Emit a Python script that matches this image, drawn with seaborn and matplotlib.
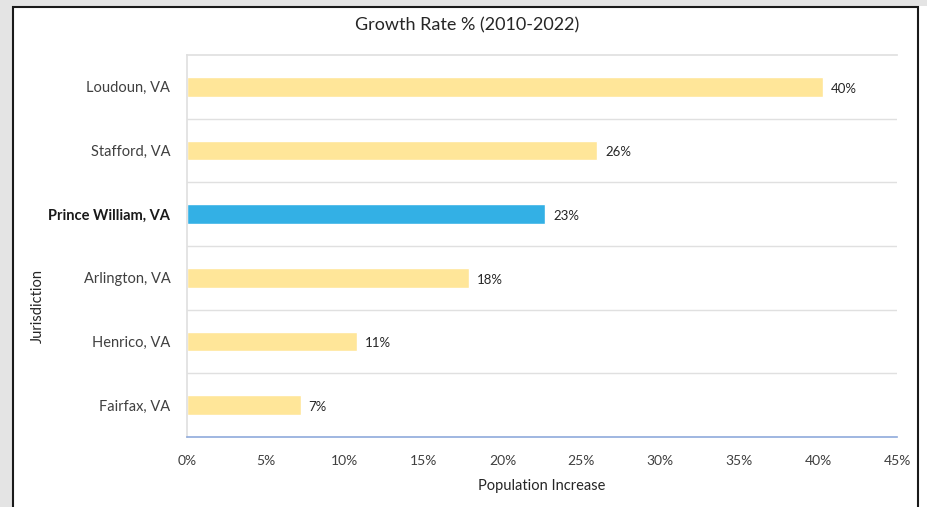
import matplotlib
matplotlib.use("Agg")
import matplotlib.pyplot as plt
import matplotlib.patches as patches
import seaborn as sns
import pandas as pd

jurisdictions = ['Loudoun, VA', 'Stafford, VA', 'Prince William, VA',
                 'Arlington, VA', 'Henrico, VA', 'Fairfax, VA']
growth = [40.3, 26.0, 22.7, 17.9, 10.8, 7.2]
labels = ['40%', '26%', '23%', '18%', '11%', '7%']
highlight = 'Prince William, VA'

df = pd.DataFrame({'Jurisdiction': jurisdictions, 'Growth': growth})
df['Group'] = ['hi' if j == highlight else 'other' for j in df['Jurisdiction']]

sns.set_theme(style="white")
plt.rcParams['font.family'] = ['Lato', 'DejaVu Sans']

fig = plt.figure(figsize=(9.28, 5.07), dpi=100)
fig.patch.set_facecolor('white')

# grey frame outside the chart + black border
fig.patches.append(patches.Rectangle((0, 1 - 6 / 507), 1, 6 / 507, transform=fig.transFigure,
                                     facecolor='#e4e4e4', edgecolor='none', zorder=0))
fig.patches.append(patches.Rectangle((0, 0), 12 / 928, 1, transform=fig.transFigure,
                                     facecolor='#e4e4e4', edgecolor='none', zorder=0))
fig.patches.append(patches.Rectangle((13 / 928, -0.05), (918 - 13) / 928, 1.05 - 7 / 507,
                                     transform=fig.transFigure, facecolor='none',
                                     edgecolor='#1a1a1a', linewidth=1.5, zorder=1))

ax = fig.add_axes([187 / 928, 1 - 437 / 507, (897 - 187) / 928, (437 - 55) / 507])
sns.barplot(data=df, y='Jurisdiction', x='Growth', hue='Group',
            palette={'hi': '#33b0e5', 'other': '#ffe699'}, orient='h',
            width=0.31, dodge=False, legend=False, saturation=1, ax=ax)

for i, (v, lab) in enumerate(zip(growth, labels)):
    ax.text(v + 0.5, i + 0.03, lab, va='center', ha='left', fontsize=9.5, color='#262626')

ax.set_xlim(0, 45)
ax.set_ylim(5.5, -0.5)
ax.set_xticks(range(0, 50, 5))
ax.set_xticklabels([f'{t}%' for t in range(0, 50, 5)], fontsize=10, color='#404040')
ax.tick_params(axis='x', which='major', direction='out', length=5, width=1,
               color='#8faadc', pad=8)
ax.tick_params(axis='y', which='both', length=0, pad=12)
for t in ax.get_yticklabels():
    t.set_fontsize(10.5)
    t.set_color('#404040')
    if t.get_text() == highlight:
        t.set_fontweight('bold')
        t.set_color('#1a1a1a')

ax.set_yticks([i + 0.5 for i in range(5)], minor=True)
ax.grid(axis='y', which='minor', color='#e0e0e0', linewidth=1)
ax.grid(axis='y', which='major', visible=False)

ax.spines['bottom'].set_color('#8faadc')
ax.spines['bottom'].set_linewidth(1.2)
ax.spines['left'].set_color('#e0e0e0')
ax.spines['top'].set_color('#e0e0e0')
ax.spines['right'].set_visible(False)

ax.set_xlabel('')
ax.set_ylabel('')
fig.text(542 / 928, 1 - 486 / 507, 'Population Increase', ha='center', va='center',
         fontsize=10.5, color='#262626')
fig.text(38 / 928, 1 - 306 / 507, 'Jurisdiction', ha='center', va='center',
         rotation=90, fontsize=10.5, color='#262626')
fig.text(467 / 928, 1 - 25 / 507, 'Growth Rate % (2010-2022)', ha='center', va='center',
         fontsize=13, color='#262626')

fig.savefig('out.png', dpi=100)
